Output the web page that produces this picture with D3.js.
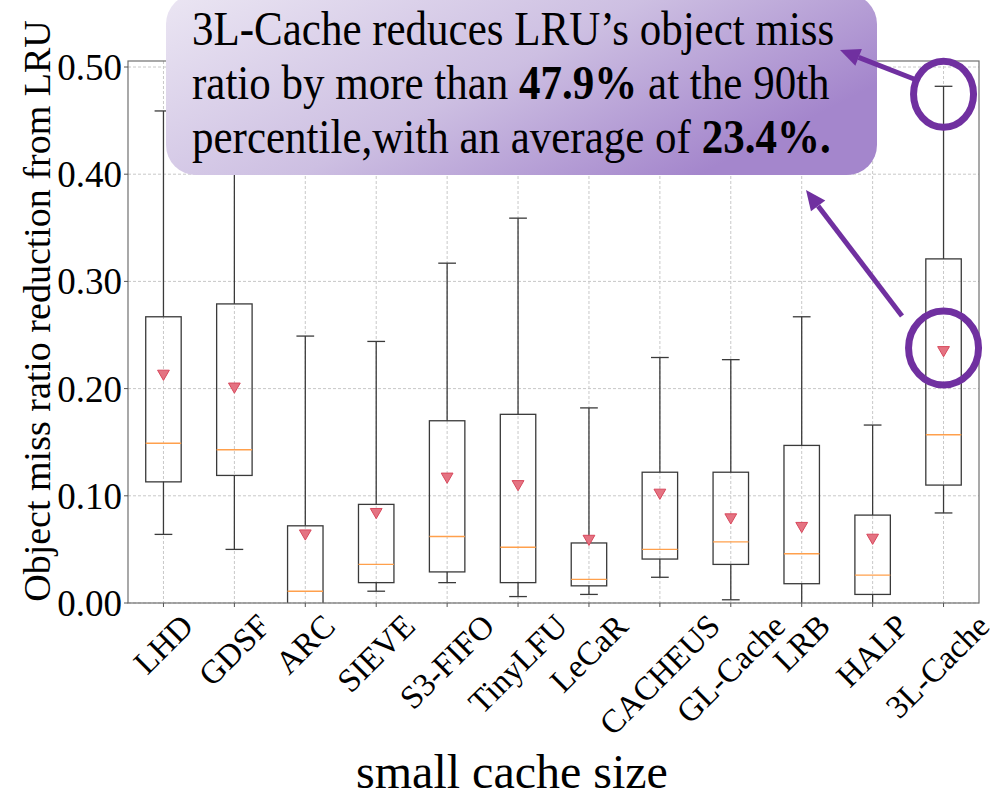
<!DOCTYPE html>
<html>
<head>
<meta charset="utf-8">
<script src="https://cdn.jsdelivr.net/npm/d3@7"></script>
<style>
  body { margin: 0; background: #fff; }
  svg text { font-family: 'Liberation Serif', 'Times New Roman', serif; }
</style>
</head>
<body>
<div id="chart"></div>
<script>
// box stats
var methods = ['LHD', 'GDSF', 'ARC', 'SIEVE', 'S3-FIFO', 'TinyLFU', 'LeCaR',
  'CACHEUS', 'GL-Cache', 'LRB', 'HALP', '3L-Cache'];
var whiskerLow = [0.064, 0.050, -0.020, 0.011, 0.019, 0.006, 0.008, 0.024, 0.003, -0.010, -0.010, 0.084];
var q1 = [0.113, 0.119, -0.004, 0.019, 0.029, 0.019, 0.016, 0.041, 0.036, 0.018, 0.008, 0.110];
var median = [0.149, 0.143, 0.011, 0.036, 0.062, 0.052, 0.022, 0.050, 0.057, 0.046, 0.026, 0.157];
var q3 = [0.267, 0.279, 0.072, 0.092, 0.170, 0.176, 0.056, 0.122, 0.122, 0.147, 0.082, 0.321];
var whiskerHigh = [0.459, 0.465, 0.249, 0.244, 0.317, 0.359, 0.182, 0.229, 0.227, 0.267, 0.166, 0.482];
var means = [0.214, 0.202, 0.065, 0.085, 0.118, 0.111, 0.060, 0.103, 0.080, 0.072, 0.061, 0.236];
var yTicks = [0, 0.1, 0.2, 0.3, 0.4, 0.5];

var W = 996, H = 798;
var m = { left: 128, right: 17, top: 61, bottom: 195 };

var svg = d3.select('#chart').append('svg')
  .attr('width', W).attr('height', H);

var x = d3.scaleBand().domain(methods)
  .range([m.left, W - m.right]).paddingInner(0).paddingOuter(0);
var y = d3.scaleLinear().domain([0, 0.5056]).range([H - m.bottom, m.top]);
var bw = x.bandwidth();
var cx = function(d) { return x(d) + bw / 2; };

svg.append('clipPath').attr('id', 'plotclip')
  .append('rect').attr('x', m.left).attr('y', m.top)
  .attr('width', W - m.right - m.left).attr('height', y(0) - m.top);

// grid
var grid = svg.append('g');
grid.selectAll('.gy').data(yTicks).enter().append('line')
  .attr('x1', m.left).attr('x2', W - m.right)
  .attr('y1', d => y(d)).attr('y2', d => y(d))
  .attr('stroke', '#c8c8c8').attr('stroke-width', 1).attr('stroke-dasharray', '3,2');
grid.selectAll('.gx').data(methods).enter().append('line')
  .attr('x1', cx).attr('x2', cx)
  .attr('y1', m.top).attr('y2', y(0))
  .attr('stroke', '#c8c8c8').attr('stroke-width', 1).attr('stroke-dasharray', '3,2');

// boxes
var boxes = svg.append('g').attr('clip-path', 'url(#plotclip)');
var items = methods.map((d, i) => ({ name: d, lo: whiskerLow[i], q1: q1[i], med: median[i],
  q3: q3[i], hi: whiskerHigh[i], mean: means[i] }));
var g = boxes.selectAll('g.box').data(items).enter().append('g');
var boxColor = '#3a3a3a';
g.append('line').attr('x1', d => cx(d.name)).attr('x2', d => cx(d.name))
  .attr('y1', d => y(d.q3)).attr('y2', d => y(d.hi))
  .attr('stroke', boxColor).attr('stroke-width', 1.3);
g.append('line').attr('x1', d => cx(d.name)).attr('x2', d => cx(d.name))
  .attr('y1', d => y(d.q1)).attr('y2', d => y(d.lo))
  .attr('stroke', boxColor).attr('stroke-width', 1.3);
g.append('line').attr('x1', d => cx(d.name) - bw / 8).attr('x2', d => cx(d.name) + bw / 8)
  .attr('y1', d => y(d.hi)).attr('y2', d => y(d.hi))
  .attr('stroke', boxColor).attr('stroke-width', 1.3);
g.append('line').attr('x1', d => cx(d.name) - bw / 8).attr('x2', d => cx(d.name) + bw / 8)
  .attr('y1', d => y(d.lo)).attr('y2', d => y(d.lo))
  .attr('stroke', boxColor).attr('stroke-width', 1.3);
g.append('rect').attr('x', d => cx(d.name) - bw / 4).attr('width', bw / 2)
  .attr('y', d => y(d.q3)).attr('height', d => y(d.q1) - y(d.q3))
  .attr('fill', 'none').attr('stroke', boxColor).attr('stroke-width', 1.3);
g.append('line').attr('x1', d => cx(d.name) - bw / 4).attr('x2', d => cx(d.name) + bw / 4)
  .attr('y1', d => y(d.med)).attr('y2', d => y(d.med))
  .attr('stroke', '#ffa04c').attr('stroke-width', 1.4);
var tri = d3.symbol().type(d3.symbolTriangle).size(60);
g.append('path').attr('d', tri)
  .attr('transform', d => 'translate(' + cx(d.name) + ',' + y(d.mean) + ') rotate(180)')
  .attr('fill', '#e47382').attr('stroke', '#d8485c').attr('stroke-width', 1);

// frame
svg.append('rect').attr('x', m.left).attr('y', m.top)
  .attr('width', W - m.right - m.left).attr('height', y(0) - m.top)
  .attr('fill', 'none').attr('stroke', '#707070').attr('stroke-width', 1.2);

// y axis
var yAxis = svg.append('g');
yAxis.selectAll('line').data(yTicks).enter().append('line')
  .attr('x1', m.left - 4).attr('x2', m.left).attr('y1', d => y(d)).attr('y2', d => y(d))
  .attr('stroke', '#555');
yAxis.selectAll('text').data(yTicks).enter().append('text')
  .attr('x', m.left - 6).attr('y', d => y(d)).attr('dy', '0.35em')
  .attr('text-anchor', 'end').attr('font-size', 37)
  .text(d => d3.format('.2f')(d));
svg.append('text')
  .attr('transform', 'translate(50,' + 311 + ') rotate(-90)')
  .attr('text-anchor', 'middle').attr('font-size', 38)
  .text('Object miss ratio reduction from LRU');

// x axis
var xAxis = svg.append('g');
xAxis.selectAll('line').data(methods).enter().append('line')
  .attr('x1', cx).attr('x2', cx).attr('y1', y(0)).attr('y2', y(0) + 4)
  .attr('stroke', '#555');
var fsX = 33;
xAxis.selectAll('text').data(methods).enter().append('text')
  .attr('font-size', fsX).attr('text-anchor', 'middle').attr('dy', '0.33em')
  .text(d => d)
  .each(function(d) {
    var w = this.getComputedTextLength();
    var h = fsX * 0.72;
    var cy = y(0) + 9 + (w + h) * Math.SQRT1_2 / 2;
    var shift = d === '3L-Cache' ? -6 : 0;
    d3.select(this).attr('transform', 'translate(' + (cx(d) + shift) + ',' + cy + ') rotate(-45)');
  });
svg.append('text')
  .attr('x', 512).attr('y', 788)
  .attr('text-anchor', 'middle').attr('font-size', 48)
  .text('small cache size');

// annotation
var defs = svg.append('defs');
var grad = defs.append('linearGradient').attr('id', 'boxgrad')
  .attr('x1', 0).attr('y1', 0).attr('x2', 1).attr('y2', 0.5);
grad.append('stop').attr('offset', '0%').attr('stop-color', '#ebe6f3');
grad.append('stop').attr('offset', '55%').attr('stop-color', '#cdbfe2');
grad.append('stop').attr('offset', '100%').attr('stop-color', '#a486cc');

svg.append('rect').attr('x', 166).attr('y', -6).attr('width', 711).attr('height', 181)
  .attr('rx', 30).attr('fill', 'url(#boxgrad)');

var lines = [
  [['3L-Cache reduces LRU\u2019s object miss', false]],
  [['ratio by more than ', false], ['47.9%', true], [' at the 90th', false]],
  [['percentile,with an average of ', false], ['23.4%.', true]]
];
var note = svg.append('text').attr('font-size', 43).attr('fill', '#000')
  .attr('transform', 'scale(1,1.15)');
lines.forEach(function(parts, i) {
  parts.forEach(function(p, j) {
    var t = note.append('tspan').text(p[0])
      .attr('font-weight', p[1] ? 'bold' : 'normal');
    if (j === 0) t.attr('x', 192).attr('y', 39 + i * 47);
  });
});

var purple = '#7030a0';
var last = items[items.length - 1];
svg.append('ellipse').attr('cx', cx(last.name)).attr('cy', y(last.hi) + 8)
  .attr('rx', 30).attr('ry', 33).attr('fill', 'none')
  .attr('stroke', purple).attr('stroke-width', 7);
svg.append('ellipse').attr('cx', cx(last.name)).attr('cy', y(last.mean) - 2)
  .attr('rx', 35).attr('ry', 37).attr('fill', 'none')
  .attr('stroke', purple).attr('stroke-width', 7);

function arrow(x1, y1, x2, y2) {
  var ang = Math.atan2(y2 - y1, x2 - x1);
  var L = 20, Wd = 9;
  var bx = x2 - L * Math.cos(ang), by = y2 - L * Math.sin(ang);
  svg.append('line').attr('x1', x1).attr('y1', y1).attr('x2', bx).attr('y2', by)
    .attr('stroke', purple).attr('stroke-width', 5);
  var px = -Math.sin(ang) * Wd, py = Math.cos(ang) * Wd;
  svg.append('path')
    .attr('d', 'M' + x2 + ',' + y2 + 'L' + (bx + px) + ',' + (by + py) + 'L' + (bx - px) + ',' + (by - py) + 'Z')
    .attr('fill', purple);
}
arrow(914, 79, 840, 50);
arrow(902, 316, 806, 190);
</script>
</body>
</html>
